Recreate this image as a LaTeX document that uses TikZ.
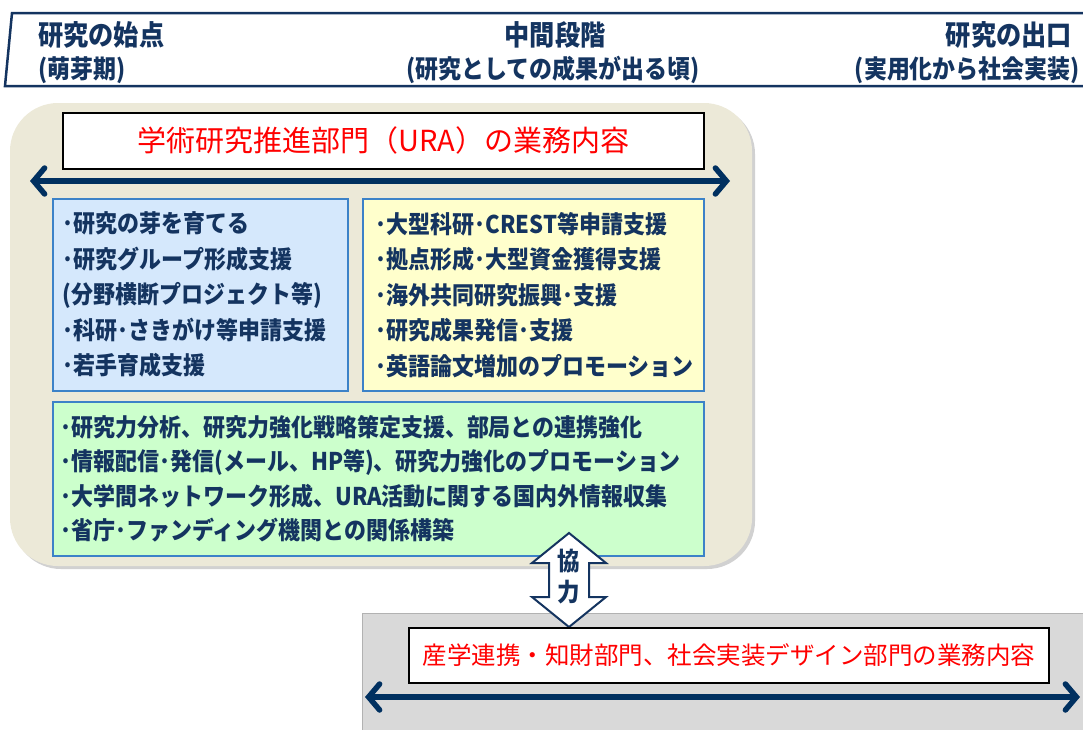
\documentclass[tikz,border=0pt]{standalone}
\usepackage{fontspec}
\setmainfont{Noto Sans CJK JP}[FakeStretch=0.9]
\newfontfamily\titlefont{Noto Sans CJK JP}
\usetikzlibrary{arrows.meta}
\definecolor{navy}{RGB}{20,52,96}
\definecolor{arrownavy}{RGB}{0,48,96}
\definecolor{beige}{RGB}{236,233,216}
\definecolor{skyfill}{RGB}{213,232,252}
\definecolor{lemonfill}{RGB}{255,255,204}
\definecolor{mintfill}{RGB}{204,255,204}
\definecolor{boxedge}{RGB}{60,130,200}
\definecolor{greyfill}{RGB}{217,217,217}
\tikzset{
	taskbox/.style={draw=boxedge, line width=1.5pt, anchor=north west, align=left, text=navy, font=\bfseries\fontsize{24.4}{35.5}\selectfont},
	titlebox/.style={draw=black, line width=1.5pt, fill=white, anchor=north west, text=red, inner sep=0pt},
	spanarrow/.style={arrownavy, line width=5.5pt, {Straight Barb[length=11pt,width=26pt,line cap=round]}-{Straight Barb[length=11pt,width=26pt,line cap=round]}},
	headtext/.style={text=navy, font=\bfseries\fontsize{28}{28}\selectfont, inner sep=0pt},
	headsub/.style={text=navy, font=\bfseries\fontsize{25.5}{25.5}\selectfont, inner sep=0pt}
}

\begin{document}
\begin{tikzpicture}[x=1pt, y=-1pt]
		%%%%% START %%%%%
		\useasboundingbox (0, 0) rectangle (1083, 729);
		
		% header band
		\draw[line width=2.5pt, color=navy] (1083, 13) -- (12, 13) -- (5, 86) -- (1083, 86);
		\node[headtext, anchor=west] (startTop) at (38, 35) {研究の始点};
		\node[headsub, anchor=west] (startSub) at (38, 70) {(萌芽期)};
		\node[headtext] (midTop) at (555, 35) {中間段階};
		\node[headsub] (midSub) at (553, 70) {(研究としての成果が出る頃)};
		\node[headtext, anchor=east] (exitTop) at (1072, 35) {研究の出口};
		\node[headsub, anchor=east] (exitSub) at (1080, 70) {(実用化から社会実装)};
		
		% URA area
		\draw[fill=black!18, draw=none, rounded corners=48pt] (13, 106) rectangle (755, 569);
		\draw[fill=beige, draw=none, rounded corners=48pt] (10, 103) rectangle (752, 566);
		
		\node[titlebox, minimum width=641pt, minimum height=56pt, font=\titlefont\fontsize{29}{29}\selectfont] (uraTitle) at (62, 112) {学術研究推進部門（URA）の業務内容};
		
		\coordinate (uraL) at (30, 181);
		\coordinate (uraR) at (730, 181);
		\draw[spanarrow] (uraL) -- (uraR);
		
		\node[taskbox, fill=skyfill, minimum width=295pt, minimum height=192pt, inner xsep=10pt, text width=275pt] (seedBox) at (52, 198) {･研究の芽を育てる\\･研究グループ形成支援\\(分野横断プロジェクト等)\\･科研･さきがけ等申請支援\\･若手育成支援};
		\node[taskbox, fill=lemonfill, minimum width=341pt, minimum height=192pt, inner xsep=13pt, text width=315pt] (fundBox) at (362, 198) {･大型科研･CREST等申請支援\\･拠点形成･大型資金獲得支援\\･海外共同研究振興･支援\\･研究成果発信･支援\\･英語論文増加のプロモーション};
		\node[taskbox, fill=mintfill, minimum width=651pt, minimum height=154pt, inner xsep=8pt, text width=635pt, font=\bfseries\fontsize{24.4}{34.3}\selectfont] (planBox) at (52, 401) {･研究力分析、研究力強化戦略策定支援、部局との連携強化\\･情報配信･発信(メール、HP等)、研究力強化のプロモーション\\･大学間ネットワーク形成、URA活動に関する国内外情報収集\\･省庁･ファンディング機関との関係構築};
		
		% industry area
		\draw[fill=greyfill, draw=black!30, line width=1pt] (362, 613) rectangle (1090, 735);
		
		\draw[fill=white, draw=navy, line width=2pt] (569, 533) -- (532, 563) -- (549, 563) -- (549, 597) -- (532, 597) -- (569, 627) -- (606, 597) -- (589, 597) -- (589, 563) -- (606, 563) -- cycle;
		\node[text=navy, align=center, inner sep=0pt, font=\bfseries\fontsize{25}{31}\selectfont] (coop) at (569, 577) {協\\力};
		
		\node[titlebox, minimum width=640pt, minimum height=55pt, font=\titlefont\fontsize{24.5}{24.5}\selectfont] (indTitle) at (408, 627) {産学連携・知財部門、社会実装デザイン部門の業務内容};
		
		\coordinate (indL) at (365, 697);
		\coordinate (indR) at (1080, 697);
		\draw[spanarrow] (indL) -- (indR);
		
		%%%%% END %%%%%
	\end{tikzpicture}
\end{document}
